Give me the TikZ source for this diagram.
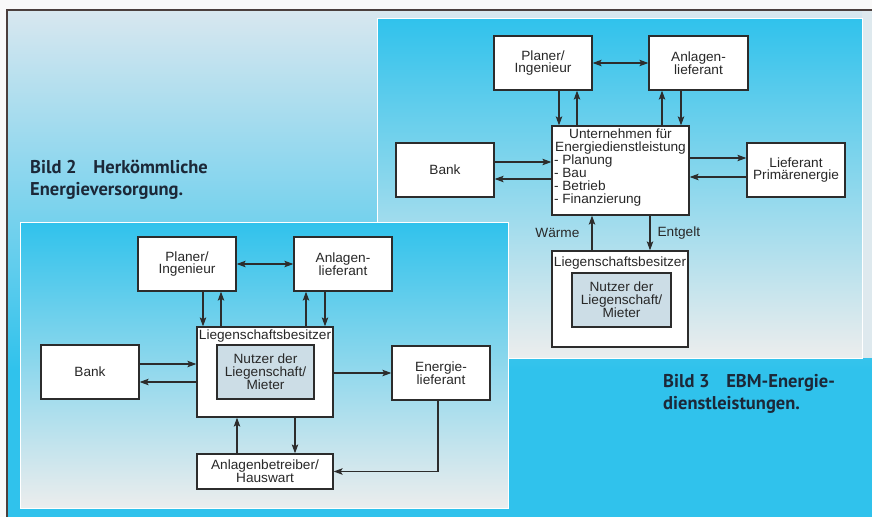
\documentclass[tikz,border=0pt]{standalone}
\usepackage{fontspec}
\setmainfont{Liberation Sans}
\newfontfamily\boxfont{Liberation Sans}[FakeStretch=1.02]
\newfontfamily\titlefont{PT Sans}
\usetikzlibrary{arrows.meta,calc}
\definecolor{cblue}{HTML}{30C2EC}
\definecolor{pmid}{HTML}{A2D8EF}
\definecolor{plow}{HTML}{ECEDED}
\definecolor{otop}{HTML}{D8E7EF}
\definecolor{boxline}{HTML}{2C2C2C}
\definecolor{textgray}{HTML}{282828}
\definecolor{inner}{HTML}{CCDDE6}
\definecolor{frame}{HTML}{4B3F3D}
\definecolor{titlecol}{HTML}{1C2838}
\begin{document}
\begin{tikzpicture}[x=1pt,y=-1pt,
  box/.style={draw=boxline, line width=1.3pt, fill=white, inner sep=0pt,
    align=center, text=textgray, font={\boxfont\fontsize{13.4}{12.8}\selectfont}},
  innerbox/.style={box, fill=inner},
  lbl/.style={inner sep=0pt, text=textgray, font={\boxfont\fontsize{13.4}{12.8}\selectfont}},
  tip/.tip={Stealth[length=9pt,width=6.5pt,inset=2pt]},
  arr/.style={draw=boxline, line width=1.1pt, -tip},
  darr/.style={draw=boxline, line width=1.1pt, tip-tip},
  title/.style={inner sep=0pt, text=titlecol, font={\titlefont\bfseries\fontsize{18.5}{22}\selectfont}},
  panel/.style={top color=cblue, middle color=pmid, bottom color=plow}
]
\useasboundingbox (0,0) rectangle (872,517);
% page and outer background
\fill[white!95!gray] (0,0) rectangle (872,517);
\shade[top color=otop, bottom color=cblue] (7,10) rectangle (872,370);
\fill[cblue] (7,369) rectangle (872,517);
\fill[otop!70!plow] (862,10) rectangle (872,358);
\draw[frame, line width=1.5pt] (872,10) -- (7,10) -- (7,517);

% panel 3
\shade[panel] (377,18) rectangle (862,358);
\draw[white, line width=0.8pt] (377,18) rectangle (862,358);
% panel 2
\shade[panel] (20,222) rectangle (508,508);
\draw[white, line width=0.8pt] (20,222) rectangle (508,508);

% ---------- Bild 3 ----------
\node[box, minimum width=98pt, minimum height=54pt] (p3plan) at (543,63) {Planer/\\Ingenieur};
\node[box, minimum width=99pt, minimum height=54pt] (p3anl) at (698.5,63) {Anlagen-\\lieferant};
\node[box, minimum width=137pt, minimum height=89pt] (p3unt) at (620.5,170.5)
  {\parbox{133pt}{\fontsize{13.4}{13}\selectfont\centering Unternehmen für\\Energiedienstleistung\par
   \raggedright - Planung\\- Bau\\- Betrieb\\- Finanzierung\par\vspace{6pt}}};
\node[box, minimum width=98pt, minimum height=54pt] (p3bank) at (445,170) {Bank};
\node[box, minimum width=98pt, minimum height=54pt] (p3lief) at (796,170) {Lieferant\\Primärenergie};
\node[box, minimum width=136pt, minimum height=96pt] (p3lieg) at (620,299) {};
\node[lbl, anchor=base] (p3liegt) at ([yshift=-16pt]p3lieg.north) {Liegenschaftsbesitzer};
\node[innerbox, minimum width=99pt, minimum height=54pt] (p3nutz) at (621.5,300) {Nutzer der\\Liegenschaft/\\Mieter};

\draw[darr] (p3plan.east) -- (p3anl.west);
\draw[arr] ([xshift=16pt]p3plan.south) -- ([xshift=16pt]p3plan.south |- p3unt.north);
\draw[arr] ([xshift=34pt]p3plan.south |- p3unt.north) -- ([xshift=34pt]p3plan.south);
\draw[arr] ([xshift=-36.5pt]p3anl.south |- p3unt.north) -- ([xshift=-36.5pt]p3anl.south);
\draw[arr] ([xshift=-17.5pt]p3anl.south) -- ([xshift=-17.5pt]p3anl.south |- p3unt.north);
\draw[arr] ([yshift=8pt]p3bank.east) -- ([yshift=8pt]p3bank.east -| p3unt.west);
\draw[arr] ([yshift=-9pt]p3bank.east -| p3unt.west) -- ([yshift=-9pt]p3bank.east);
\draw[arr] ([yshift=12pt]p3lief.west -| p3unt.east) -- ([yshift=12pt]p3lief.west);
\draw[arr] ([yshift=-7pt]p3lief.west) -- ([yshift=-7pt]p3lief.west -| p3unt.east);
\draw[arr] ([xshift=-28pt]p3lieg.north) -- ([xshift=-28pt]p3lieg.north |- p3unt.south)
  node[lbl, pos=0.5, left=12pt] (waerme) {Wärme};
\draw[arr] ([xshift=30pt]p3lieg.north |- p3unt.south) -- ([xshift=30pt]p3lieg.north)
  node[lbl, pos=0.5, right=7pt] (entgelt) {Entgelt};

% ---------- Bild 2 ----------
\node[box, minimum width=98pt, minimum height=54pt] (p2plan) at (187,264) {Planer/\\Ingenieur};
\node[box, minimum width=98pt, minimum height=54pt] (p2anl) at (343,264) {Anlagen-\\lieferant};
\node[box, minimum width=136pt, minimum height=90pt] (p2lieg) at (265,372) {};
\node[lbl, anchor=base] (p2liegt) at ([yshift=-13pt]p2lieg.north) {Liegenschaftsbesitzer};
\node[innerbox, minimum width=97pt, minimum height=54pt] (p2nutz) at (265.5,372) {Nutzer der\\Liegenschaft/\\Mieter};
\node[box, minimum width=98pt, minimum height=54pt] (p2bank) at (90,372) {Bank};
\node[box, minimum width=98pt, minimum height=54pt] (p2energ) at (441,373) {Energie-\\lieferant};
\node[box, minimum width=136pt, minimum height=35pt] (p2anlb) at (265,471.5) {Anlagenbetreiber/\\Hauswart};

\draw[darr] (p2plan.east) -- (p2anl.west);
\draw[arr] ([xshift=16pt]p2plan.south) -- ([xshift=16pt]p2plan.south |- p2lieg.north);
\draw[arr] ([xshift=34pt]p2plan.south |- p2lieg.north) -- ([xshift=34pt]p2plan.south);
\draw[arr] ([xshift=-37pt]p2anl.south |- p2lieg.north) -- ([xshift=-37pt]p2anl.south);
\draw[arr] ([xshift=-18pt]p2anl.south) -- ([xshift=-18pt]p2anl.south |- p2lieg.north);
\draw[arr] ([yshift=8pt]p2bank.east) -- ([yshift=8pt]p2bank.east -| p2lieg.west);
\draw[arr] ([yshift=-10pt]p2bank.east -| p2lieg.west) -- ([yshift=-10pt]p2bank.east);
\draw[arr] (p2energ.west -| p2lieg.east) -- (p2energ.west);
\draw[arr] ([xshift=30pt]p2lieg.south) -- ([xshift=30pt]p2lieg.south |- p2anlb.north);
\draw[arr] ([xshift=-28pt]p2lieg.south |- p2anlb.north) -- ([xshift=-28pt]p2lieg.south);
\draw[arr] ([xshift=-3pt]p2energ.south) |- (p2anlb.east);

% titles
\node[title, anchor=base west] (t2a) at (30,173) {Bild 2\hspace{0.9em}Herkömmliche};
\node[title, anchor=base west] (t2b) at (30,195) {Energieversorgung.};
\node[title, anchor=base west] (t3a) at (663,387) {Bild 3\hspace{0.9em}EBM-Energie-};
\node[title, anchor=base west] (t3b) at (663,409) {dienstleistungen.};
\end{tikzpicture}
\end{document}
